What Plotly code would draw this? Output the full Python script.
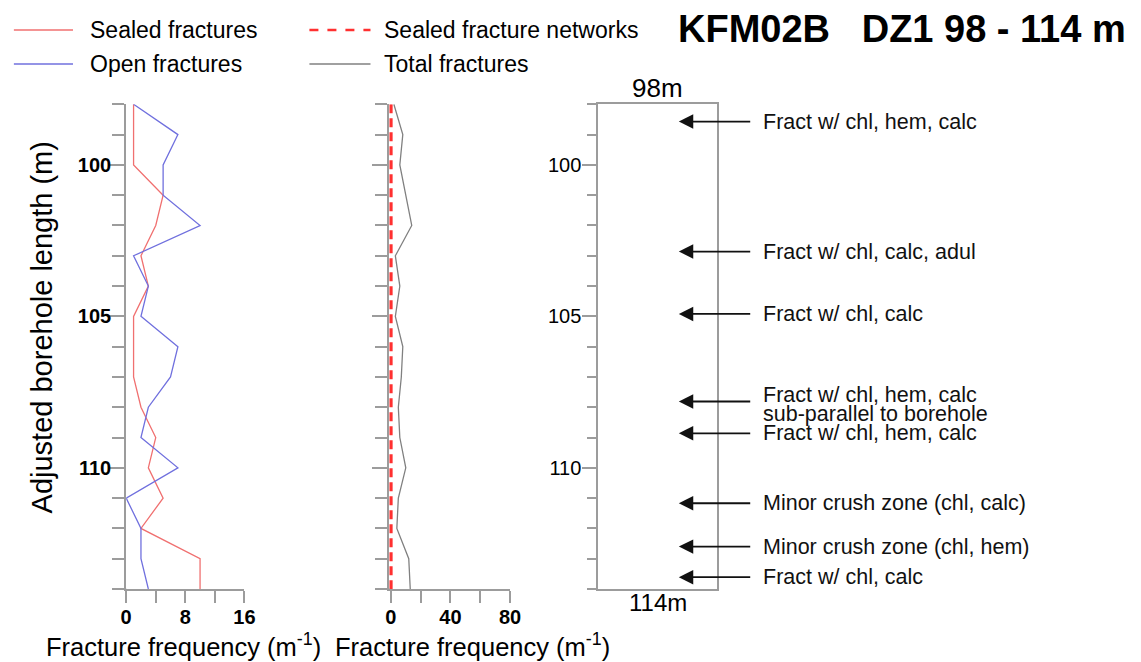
import plotly.graph_objects as go

# ---------------- data ----------------
depth = [98, 99, 100, 101, 102, 103, 104, 105, 106, 107, 108, 109, 110, 111, 112, 113, 114]
sealed = [1, 1, 1, 5, 4, 2, 3, 1, 1, 1, 2, 4, 3, 5, 2, 10, 10]
open_fr = [1, 7, 5, 5, 10, 1, 3, 2, 7, 6, 3, 2, 7, 0, 2, 2, 3]
sealed_networks = [0, 0, 0, 0, 0, 0, 0, 0, 0, 0, 0, 0, 0, 0, 0, 0, 0]
total = [2, 8, 6, 10, 14, 3, 6, 3, 8, 7, 5, 6, 10, 5, 4, 12, 13]

feature_depths = [98.57, 102.86, 104.92, 107.81, 108.86, 111.17, 112.6, 113.61]
feature_labels = [
    "Fract w/ chl, hem, calc",
    "Fract w/ chl, calc, adul",
    "Fract w/ chl, calc",
    "Fract w/ chl, hem, calc\nsub-parallel to borehole",
    "Fract w/ chl, hem, calc",
    "Minor crush zone (chl, calc)",
    "Minor crush zone (chl, hem)",
    "Fract w/ chl, calc",
]

left_xticks = [0, 8, 16]
mid_xticks = [0, 40, 80]
depth_ticks = [100, 105, 110]
title_text = "KFM02B\u00a0\u00a0\u00a0DZ1 98 - 114 m"

# ---------------- style ----------------
W, H = 1141, 662
FONT = "Liberation Sans, Arial, Helvetica, sans-serif"
AX = "#9c9c9c"
RED = "rgb(240,112,112)"
BLUE = "rgb(112,112,222)"
GRAY = "#808080"
NETRED = "#ff3030"


def px_x(p):
    return p / W


def px_y(p):
    return (H - p) / H


ydom = [px_y(589), px_y(104.3)]
BOX_L, BOX_R = 601, 722
MID_PAD = 1.0                       # small left padding (data units) so the dashed zero line is not clipped
MID_PX_PER_UNIT = 121.0 / 80.0

fig = go.Figure()
fig.add_trace(go.Scatter(x=sealed, y=depth, mode="lines", name="Sealed fractures",
                         line=dict(color=RED, width=1.3), xaxis="x", yaxis="y", cliponaxis=False))
fig.add_trace(go.Scatter(x=open_fr, y=depth, mode="lines", name="Open fractures",
                         line=dict(color=BLUE, width=1.3), xaxis="x", yaxis="y", cliponaxis=False))
fig.add_trace(go.Scatter(x=total, y=depth, mode="lines", name="Total fractures",
                         line=dict(color=GRAY, width=1.3), xaxis="x2", yaxis="y2", cliponaxis=False))
fig.add_trace(go.Scatter(x=sealed_networks, y=depth, mode="lines", name="Sealed fracture networks",
                         line=dict(color=NETRED, width=3.5, dash="9px,5px"), xaxis="x2", yaxis="y2",
                         cliponaxis=False))
fig.add_trace(go.Scatter(x=[], y=[], xaxis="x3", yaxis="y3", showlegend=False))

bold_tick = dict(family=FONT, size=20, color="black", weight="bold")
norm_tick = dict(family=FONT, size=20, color="black")


def yax(labels, font):
    return dict(
        domain=ydom, range=[114, 98], showgrid=False, zeroline=False,
        showline=True, linecolor=AX, linewidth=2, layer="below traces",
        tickmode="array", tickvals=depth_ticks,
        ticktext=[str(t) for t in depth_ticks] if labels else ["", "", ""],
        ticks="outside", ticklen=15, tickwidth=2, tickcolor=AX, tickfont=font,
        minor=dict(tickmode="linear", tick0=98, dtick=1, ticks="outside", ticklen=12,
                   tickwidth=2, tickcolor=AX, showgrid=False),
    )


def xax(domain, rng, vals, minor_dtick):
    return dict(
        domain=domain, range=rng, showgrid=False, zeroline=False,
        showline=True, linecolor=AX, linewidth=2, layer="below traces",
        tickmode="array", tickvals=vals, ticktext=[str(v) for v in vals],
        ticks="outside", ticklen=12, tickwidth=2, tickcolor=AX, tickfont=bold_tick,
        ticklabelstandoff=-3,
        minor=dict(tickmode="linear", tick0=0, dtick=minor_dtick, ticks="outside", ticklen=12,
                   tickwidth=2, tickcolor=AX, showgrid=False),
    )


y1 = yax(True, bold_tick)
y1["anchor"] = "x"
y1["ticklabelstandoff"] = -6
y2 = yax(False, bold_tick)
y2["anchor"] = "x2"
y3 = yax(True, norm_tick)
y3["anchor"] = "x3"
y3["mirror"] = True
y3["linewidth"] = 1.5
y3["ticklen"] = 14
y3["minor"]["ticklen"] = 9
y3["ticklabelstandoff"] = -3

x1 = xax([px_x(122), px_x(242)], [0, 16], left_xticks, 4)
x1["anchor"] = "y"
x2 = xax([px_x(390.7 - MID_PAD * MID_PX_PER_UNIT), px_x(511.7)], [-MID_PAD, 80], mid_xticks, 20)
x2["anchor"] = "y2"
x2["minor"]["tick0"] = 0
x3 = dict(domain=[px_x(BOX_L), px_x(BOX_R)], range=[0, 1], anchor="y3", showgrid=False,
          zeroline=False, showline=True, mirror=True, linecolor=AX, linewidth=1.5,
          ticks="", showticklabels=False)

fig.update_layout(
    width=W, height=H, margin=dict(l=0, r=0, t=0, b=0),
    paper_bgcolor="white", plot_bgcolor="white", showlegend=False,
    font=dict(family=FONT, color="black"),
    xaxis=x1, yaxis=y1, xaxis2=x2, yaxis2=y2, xaxis3=x3, yaxis3=y3,
)

# x-axis line extensions to the left of the y axes
for xr, yr, ext in (("x", "y", -0.105), ("x2", "y2", -0.09)):
    fig.add_shape(type="line", xref=f"{xr} domain", yref=f"{yr} domain",
                  x0=ext, x1=0, y0=0, y1=0, line=dict(color=AX, width=2))

ann = []
# title
ann.append(dict(text=title_text, x=px_x(1139), y=px_y(29), xref="paper", yref="paper",
                xanchor="right", yanchor="middle", showarrow=False,
                font=dict(family=FONT, size=38, color="black", weight="bold")))
# y-axis title
ann.append(dict(text="Adjusted borehole length (m)", x=px_x(37), y=px_y(327), xref="paper", yref="paper",
                textangle=-90, xanchor="center", yanchor="middle", showarrow=False,
                font=dict(family=FONT, size=29, color="black")))
# x-axis titles
for cx in (180, 474):
    ann.append(dict(text="Fracture frequency (m<sup>-1</sup>)", x=px_x(cx), y=px_y(645),
                    xref="paper", yref="paper", xanchor="center", yanchor="middle",
                    showarrow=False, font=dict(family=FONT, size=25.5, color="black")))
# box labels
ann.append(dict(text="98m", x=0.5, y=1, xref="x3 domain", yref="y3 domain", xanchor="center",
                yanchor="bottom", showarrow=False, yshift=-1, font=dict(family=FONT, size=26)))
ann.append(dict(text="114m", x=0.5, y=0, xref="x3 domain", yref="y3 domain", xanchor="center",
                yanchor="top", showarrow=False, yshift=2, font=dict(family=FONT, size=24)))

# feature arrows and labels
head_x = (683 - BOX_L) / (BOX_R - BOX_L)
tail_x = (757 - BOX_L) / (BOX_R - BOX_L)
for d, lab in zip(feature_depths, feature_labels):
    ann.append(dict(text="", x=head_x, y=d, ax=tail_x, ay=d, xref="x3", yref="y3",
                    axref="x3", ayref="y3", showarrow=True, arrowhead=2, arrowsize=1.6,
                    arrowwidth=1.8, arrowcolor="#111111"))
    lines = lab.split("\n")
    n = len(lines)
    for i, ln in enumerate(lines):
        off = 0 if n == 1 else (i - (n - 1) / 2) * 18.5 + 3
        ann.append(dict(text=ln, x=px_x(766), y=d, xref="paper", yref="y3", xanchor="left",
                        yanchor="middle", showarrow=False, yshift=-off,
                        font=dict(family=FONT, size=21.5, color="#111111")))

# manual legend
legend_items = [
    ("Sealed fractures", RED, "solid", 1.6, 8, 68, 83, 30),
    ("Open fractures", BLUE, "solid", 1.6, 8, 68, 83, 64),
    ("Sealed fracture networks", NETRED, "dash", 2.5, 308, 370, 382, 30),
    ("Total fractures", GRAY, "solid", 1.3, 308, 370, 382, 64),
]
for name, col, dash, wdt, lx0, lx1, tx, ty in legend_items:
    fig.add_shape(type="line", xref="paper", yref="paper", x0=px_x(lx0), x1=px_x(lx1),
                  y0=px_y(ty), y1=px_y(ty), line=dict(color=col, width=wdt, dash=dash))
    ann.append(dict(text=name, x=px_x(tx), y=px_y(ty), xref="paper", yref="paper",
                    xanchor="left", yanchor="middle", showarrow=False,
                    font=dict(family=FONT, size=23, color="black")))

fig.update_layout(annotations=ann)
fig.write_html("out.html")
